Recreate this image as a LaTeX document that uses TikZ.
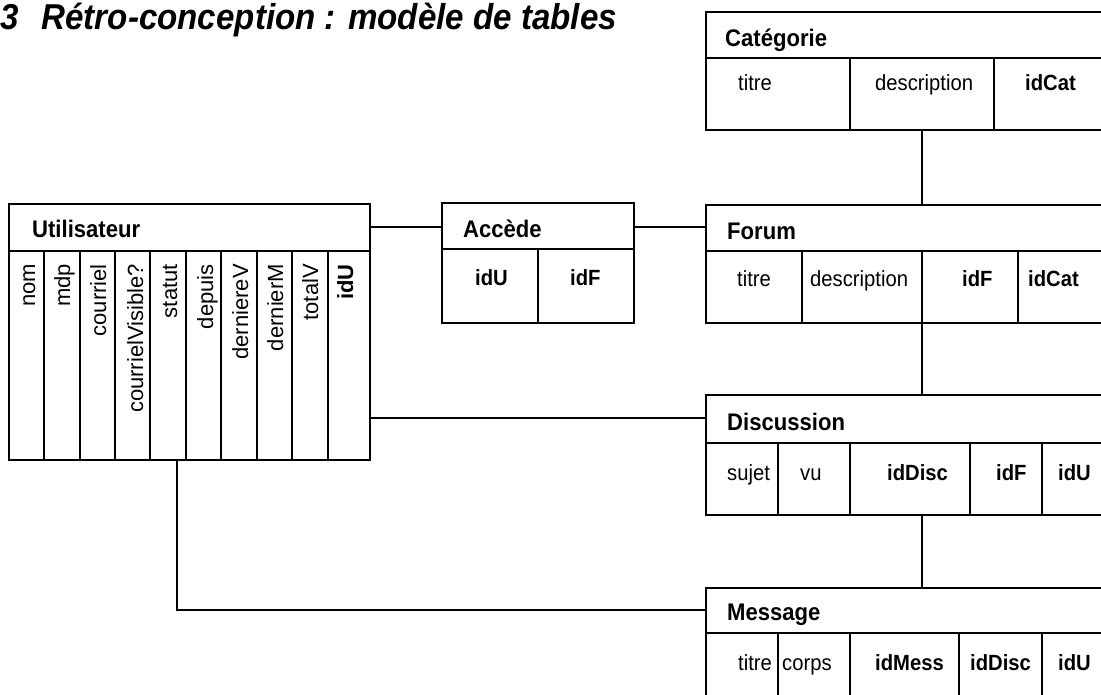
\documentclass[tikz,border=0pt]{standalone}
\usepackage{fontspec}
\setmainfont{Liberation Sans}[FakeStretch=0.92]
\newfontfamily\vsans{Liberation Sans}
\begin{document}
\begin{tikzpicture}[x=1pt,y=-1pt,
  tbl/.style={draw,line width=1.8pt,anchor=north west,inner sep=0pt,outer sep=0pt},
  ln/.style={line width=1.8pt},
  conn/.style={line width=1.6pt},
  hdr/.style={anchor=base west,inner sep=0pt,font=\fontsize{24}{28}\selectfont\bfseries},
  att/.style={anchor=base west,inner sep=0pt,font=\fontsize{22}{26}\selectfont},
  key/.style={anchor=base west,inner sep=0pt,font=\fontsize{22}{26}\selectfont\bfseries},
  vatt/.style={anchor=base east,rotate=90,inner sep=0pt,font=\vsans\fontsize{22}{26}\selectfont},
  vkey/.style={anchor=base east,rotate=90,inner sep=0pt,font=\vsans\fontsize{22}{26}\selectfont\bfseries}]
\useasboundingbox (0,0) rectangle (1101,695);
\clip (0,0) rectangle (1101,695);

% title
\node[anchor=base west,inner sep=0pt,font=\fontsize{36}{40}\selectfont\bfseries\itshape] (title) at (0,30) {3\hspace{23pt}Rétro-conception : modèle de tables};

% Categorie
\node[tbl,minimum width=420pt,minimum height=118pt] (cat) at (706,12) {};
\draw[ln] (706,58) -- (1126,58);
\foreach \x in {850,994} \draw[ln] (\x,58) -- (\x,130);
\node[hdr] (catH) at (725,47) {Catégorie};
\node[att] (catA) at (738,91) {titre};
\node[att] (catB) at (875,91) {description};
\node[key] (catC) at (1025,91) {idCat};

% Forum
\node[tbl,minimum width=420pt,minimum height=118pt] (forum) at (706,205) {};
\draw[ln] (706,251) -- (1126,251);
\foreach \x in {802,922,1018} \draw[ln] (\x,251) -- (\x,323);
\node[hdr] (forH) at (727,240) {Forum};
\node[att] (forA) at (737,287) {titre};
\node[att] (forB) at (810,287) {description};
\node[key] (forC) at (962,287) {idF};
\node[key] (forD) at (1028,287) {idCat};

% Discussion
\node[tbl,minimum width=420pt,minimum height=120pt] (disc) at (706,395) {};
\draw[ln] (706,443) -- (1126,443);
\foreach \x in {778,850,970,1042} \draw[ln] (\x,443) -- (\x,515);
\node[hdr] (disH) at (727,430) {Discussion};
\node[att] (disA) at (727,480) {sujet};
\node[att] (disB) at (800,480) {vu};
\node[key] (disC) at (887,480) {idDisc};
\node[key] (disD) at (996,480) {idF};
\node[key] (disE) at (1058,480) {idU};

% Message
\node[tbl,minimum width=420pt,minimum height=150pt] (mess) at (706,588) {};
\draw[ln] (706,633) -- (1126,633);
\foreach \x in {778,850,959,1042} \draw[ln] (\x,633) -- (\x,738);
\node[hdr] (mesH) at (727,620) {Message};
\node[att] (mesA) at (738,670) {titre};
\node[att] (mesB) at (782,670) {corps};
\node[key] (mesC) at (875,670) {idMess};
\node[key] (mesD) at (970,670) {idDisc};
\node[key] (mesE) at (1058,670) {idU};

% Accede
\node[tbl,minimum width=192pt,minimum height=120pt] (acc) at (442,203) {};
\draw[ln] (442,249) -- (634,249);
\draw[ln] (538,249) -- (538,323);
\node[hdr] (accH) at (463,238) {Accède};
\node[key] (accA) at (475,286) {idU};
\node[key] (accB) at (570,286) {idF};

% Utilisateur
\node[tbl,minimum width=361pt,minimum height=256pt] (util) at (9,204) {};
\draw[ln] (9,251) -- (370,251);
\foreach \x in {44,80,115,150,186,221,257,292,328} \draw[ln] (\x,251) -- (\x,460);
\node[hdr] (utiH) at (32,238) {Utilisateur};
\node[vatt] (u1) at (35,264) {nom};
\node[vatt] (u2) at (70,264) {mdp};
\node[vatt] (u3) at (106,264) {courriel};
\node[vatt] (u4) at (143,264) {courrielVisible?};
\node[vatt] (u5) at (177,264) {statut};
\node[vatt] (u6) at (213,264) {depuis};
\node[vatt] (u7) at (248,264) {derniereV};
\node[vatt] (u8) at (283,264) {dernierM};
\node[vatt] (u9) at (318,264) {totalV};
\node[vkey] (u10) at (353,264) {idU};

% connectors
\coordinate (cx) at (922,0);
\coordinate (ya) at (0,227);
\coordinate (yd) at (0,418);
\coordinate (ux) at (177,0);
\coordinate (ym) at (0,610);
\draw[conn] (cat.south -| cx) -- (forum.north -| cx);
\draw[conn] (forum.south -| cx) -- (disc.north -| cx);
\draw[conn] (disc.south -| cx) -- (mess.north -| cx);
\draw[conn] (util.east |- ya) -- (acc.west |- ya);
\draw[conn] (acc.east |- ya) -- (forum.west |- ya);
\draw[conn] (util.east |- yd) -- (disc.west |- yd);
\draw[conn] (util.south -| ux) |- (mess.west |- ym);
\end{tikzpicture}
\end{document}
